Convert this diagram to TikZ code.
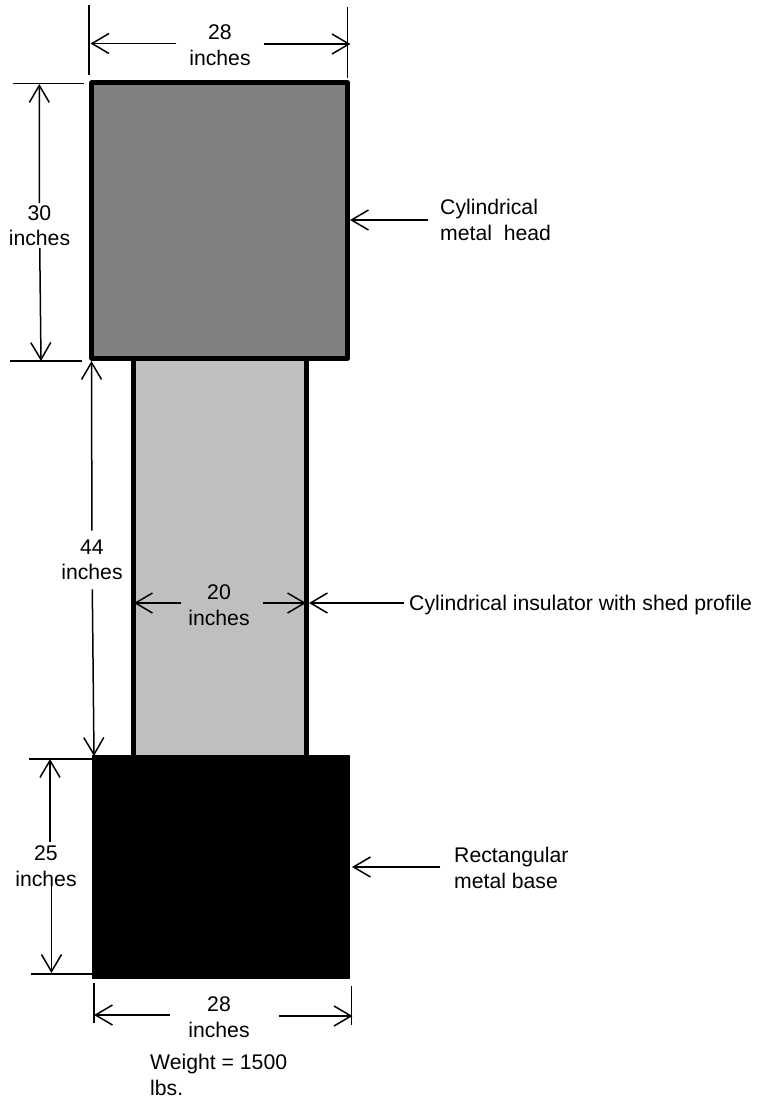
\documentclass[tikz,border=0pt]{standalone}
\usepackage{fontspec}
\setmainfont{Liberation Sans}
\usetikzlibrary{arrows.meta}
\tikzset{
	part/.style={draw=black,line width=5pt,line join=round,inner sep=0pt,outer sep=0pt},
	dimline/.style={line width=1.5pt},
	dimarrow/.style={line width=1.5pt,-{Straight Barb[length=17pt,width=20pt,line width=1.5pt]}},
	dimlabel/.style={font=\fontsize{21.2}{25.5}\selectfont,align=center,inner xsep=13pt,inner ysep=0pt},
	note/.style={font=\fontsize{21.2}{25.5}\selectfont,align=left,inner sep=0pt,anchor=north west}
}
\begin{document}
\begin{tikzpicture}[x=1pt,y=-1pt]
	\useasboundingbox (0,0) rectangle (757,1099);
	% parts
	\node[part,fill=black!25,minimum width=173pt,minimum height=400pt] (insulator) at (219.7,558) {};
	\node[part,fill=black!50,minimum width=255.7pt,minimum height=275.4pt] (head) at (219.6,220.5) {};
	\node[draw=black,fill=black,line width=1pt,line join=round,inner sep=0pt,outer sep=0pt,minimum width=256.5pt,minimum height=223pt] (base) at (221.2,867) {};
	% top width
	\coordinate (tl1) at (89,5);
	\coordinate (tl2) at (89,75);
	\coordinate (tr1) at (347.5,7);
	\coordinate (tr2) at (347.5,78);
	\coordinate (tla) at (90.5,43.5);
	\coordinate (tra) at (350.5,44);
	\draw[dimline] (tl1) -- (tl2);
	\draw[dimline] (tr1) -- (tr2);
	\node[dimlabel] (topdim) at (220,45) {28\\inches};
	\draw[dimarrow] (topdim.west |- tla) -- (tla);
	\draw[dimarrow] (topdim.east |- tra) -- (tra);
	% head height
	\coordinate (hu1) at (13,83.5);
	\coordinate (hu2) at (84,83.5);
	\coordinate (hd1) at (10,361);
	\coordinate (hd2) at (81.5,361);
	\coordinate (hua) at (39.3,84);
	\coordinate (hda) at (41,361);
	\draw[dimline] (hu1) -- (hu2);
	\draw[dimline] (hd1) -- (hd2);
	\node[dimlabel,inner ysep=2pt] (headdim) at (39.5,225.5) {30\\inches};
	\draw[dimarrow] (headdim) -- (hua);
	\draw[dimarrow] (headdim) -- (hda);
	% insulator height
	\coordinate (iua) at (91.5,361);
	\coordinate (ida) at (94,756);
	\node[dimlabel,inner ysep=9pt] (insdim) at (92,560) {44\\inches};
	\draw[dimarrow] (insdim) -- (iua);
	\draw[dimarrow] (insdim) -- (ida);
	% insulator width
	\coordinate (ila) at (134,603);
	\coordinate (ils) at (181,603);
	\coordinate (ira) at (306,603);
	\coordinate (irs) at (263,603);
	\node[dimlabel] (insw) at (219,605) {20\\inches};
	\draw[dimarrow] (irs) -- (ira);
	\draw[dimarrow] (ils) -- (ila);
	% base height
	\coordinate (bu1) at (29,759);
	\coordinate (bu2) at (93,759);
	\coordinate (bd1) at (31,974);
	\coordinate (bd2) at (93,974);
	\coordinate (bua) at (50,759);
	\coordinate (bus) at (50,842);
	\coordinate (bda) at (51.5,973);
	\coordinate (bds) at (51.5,885);
	\draw[dimline] (bu1) -- (bu2);
	\draw[dimline] (bd1) -- (bd2);
	\node[dimlabel] (basedim) at (46,866) {25\\inches};
	\draw[dimarrow] (bus) -- (bua);
	\draw[dimarrow] (bds) -- (bda);
	% base width
	\coordinate (bl1) at (94,983);
	\coordinate (bl2) at (94,1023);
	\coordinate (br1) at (351.5,986);
	\coordinate (br2) at (351.5,1025);
	\coordinate (bla) at (94,1015);
	\coordinate (bls) at (170,1015);
	\coordinate (bra) at (352.5,1016);
	\coordinate (brs) at (279,1016);
	\draw[dimline] (bl1) -- (bl2);
	\draw[dimline] (br1) -- (br2);
	\node[dimlabel] (basew) at (219,1017) {28\\inches};
	\draw[dimarrow] (bls) -- (bla);
	\draw[dimarrow] (brs) -- (bra);
	% notes
	\node[note] (headnote) at (440,199) {Cylindrical\\metal\ \ head};
	\node[note] (insnote) at (409,595) {Cylindrical insulator with shed profile};
	\node[note] (basenote) at (454,847) {Rectangular\\metal base};
	\node[note] (weight) at (150,1054) {Weight = 1500\\lbs.};
	\coordinate (hp) at (350,220);
	\coordinate (hq) at (428,220);
	\coordinate (ip) at (309,603);
	\coordinate (iq) at (404,603);
	\coordinate (bp) at (352,867);
	\coordinate (bq) at (440,867);
	\draw[dimarrow] (hq) -- (hp);
	\draw[dimarrow] (iq) -- (ip);
	\draw[dimarrow] (bq) -- (bp);
\end{tikzpicture}
\end{document}
